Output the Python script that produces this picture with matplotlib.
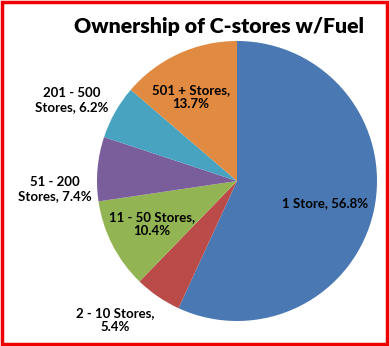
import numpy as np
import matplotlib.pyplot as plt
from matplotlib.patches import Rectangle

# datos del grafico
categorias = ['1 Store', '2 - 10 Stores', '11 - 50 Stores', '51 - 200 Stores',
              '201 - 500 Stores', '501 + Stores']
porcentajes = [56.8, 5.4, 10.4, 7.4, 6.2, 13.7]
textos = ['1 Store, 56.8%', '2 - 10 Stores,\n5.4%', '11 - 50 Stores,\n10.4%',
          '51 - 200\nStores, 7.4%', '201 - 500\nStores, 6.2%', '501 + Stores,\n13.7%']
colores = ['#4A78B2', '#BA4B48', '#93B453', '#7A5E9C', '#47A3BF', '#E08A42']

# posicion de cada etiqueta relativa al centro (en radios)
pos_etiquetas = [(0.63, -0.16), (-0.87, -0.99), (-0.61, -0.31),
                 (-1.30, -0.06), (-1.18, 0.58), (-0.33, 0.60)]

W, H = 389, 346
fig = plt.figure(figsize=(W / 100, H / 100), dpi=100)
ax = fig.add_axes([0, 0, 1, 1])
ax.set_xlim(0, W)
ax.set_ylim(0, H)
ax.axis('off')

cx, cy, R = 237, 346 - 181, 140
ax.pie(porcentajes, colors=colores, startangle=90, counterclock=False,
       center=(cx, cy), radius=R, wedgeprops=dict(linewidth=0))
ax.set_xlim(0, W)
ax.set_ylim(0, H)
ax.set_aspect('equal')

for texto, (dx, dy) in zip(textos, pos_etiquetas):
    ax.text(cx + dx * R, cy + dy * R, texto, ha='center', va='center',
            fontsize=9.5, fontweight='bold', family=['Lato', 'DejaVu Sans'],
            color='black', linespacing=1.2)

ax.text(219, 346 - 26, 'Ownership of C-stores w/Fuel', ha='center', va='center',
        fontsize=15.3, fontweight='heavy', family=['Lato', 'DejaVu Sans'], color='black')

# marco rojo
fig.patches.append(Rectangle((0.004, 0.006), 0.991, 0.988, transform=fig.transFigure,
                             fill=False, edgecolor='#EE0000', linewidth=2.5))

plt.savefig('out.png', dpi=100)
